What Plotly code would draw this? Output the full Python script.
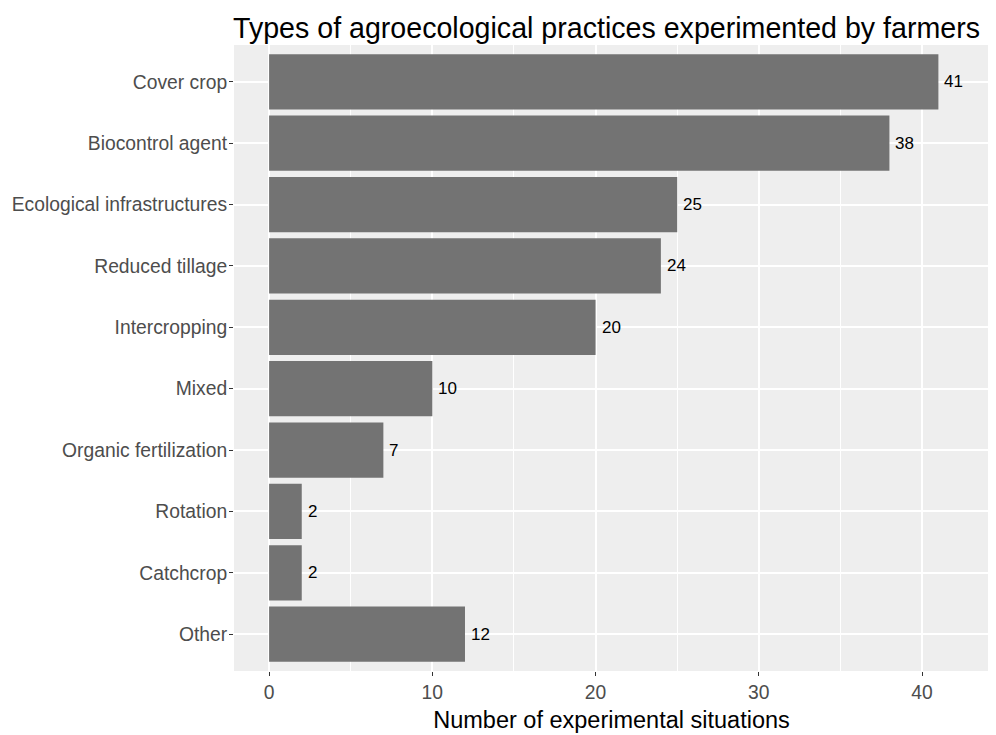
import plotly.graph_objects as go

categories = ["Cover crop", "Biocontrol agent", "Ecological infrastructures", "Reduced tillage",
              "Intercropping", "Mixed", "Organic fertilization", "Rotation", "Catchcrop", "Other"]
values = [41, 38, 25, 24, 20, 10, 7, 2, 2, 12]
x_ticks = [0, 10, 20, 30, 40]

FONT = "Liberation Sans, Arial, Helvetica, sans-serif"

# page body has an 8px margin; compensate so content lands at reference positions
W, H = 988, 727

fig = go.Figure()
fig.add_trace(go.Bar(
    x=values, y=categories, orientation="h",
    marker=dict(color="#737373", line=dict(width=0)),
    width=0.9, hoverinfo="x+y",
))

for cat, v in zip(categories, values):
    fig.add_annotation(x=v, y=cat, text=str(v), showarrow=False,
                       xanchor="left", yanchor="middle", xshift=4,
                       font=dict(family=FONT, size=17, color="#000000"))

fig.update_layout(
    width=W, height=H,
    margin=dict(l=226, r=7, t=37, b=64, autoexpand=False),
    paper_bgcolor="white", plot_bgcolor="#EEEEEE",
    showlegend=False,
    font=dict(family=FONT),
    title=dict(text="Types of agroecological practices experimented by farmers",
               x=225/W, xanchor="left", xref="container",
               y=1 - 20/H, yanchor="middle", yref="container",
               font=dict(family=FONT, size=28.6, color="#000000"), automargin=False),
    xaxis=dict(
        range=[-2.15, 44.1], tickvals=x_ticks, ticktext=[str(t) for t in x_ticks],
        showgrid=True, gridcolor="white", gridwidth=1.5,
        minor=dict(tickvals=[5, 15, 25, 35], showgrid=True, gridcolor="white", gridwidth=0.8, ticks=""),
        ticks="outside", ticklen=4, tickcolor="#333333", tickwidth=1,
        tickfont=dict(family=FONT, size=19.3, color="#4D4D4D"),
        zeroline=False, showline=False, automargin=False,
        title=dict(text="Number of experimental situations",
                   font=dict(family=FONT, size=23.5, color="#000000"), standoff=9),
    ),
    yaxis=dict(
        categoryorder="array", categoryarray=categories,
        range=[9.6, -0.6],
        showgrid=True, gridcolor="white", gridwidth=1.5,
        ticks="outside", ticklen=4, tickcolor="#333333", tickwidth=1,
        tickfont=dict(family=FONT, size=19.3, color="#4D4D4D"),
        zeroline=False, showline=False, automargin=False,
        ticklabelstandoff=-2,
    ),
)

fig.write_html("out.html")
